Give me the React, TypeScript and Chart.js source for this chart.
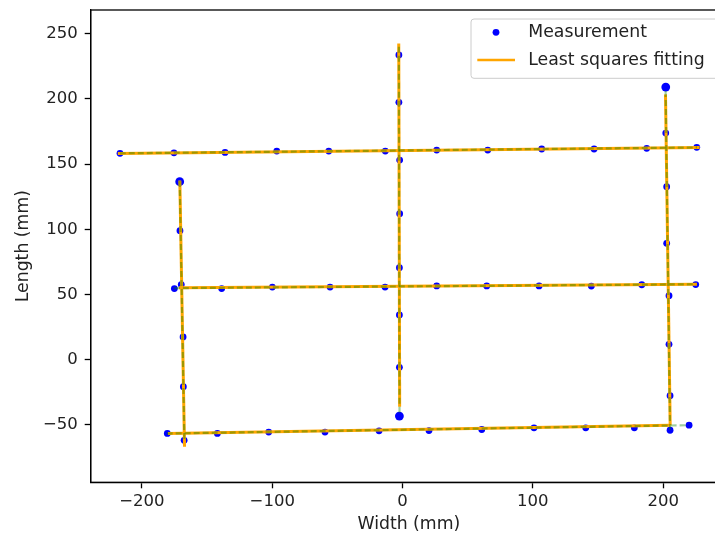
import React, { useEffect, useRef } from "react";
import { Chart, registerables } from "chart.js";

Chart.register(...registerables);

// ---------------- Data ----------------
const xTickValues = [-200, -100, 0, 100, 200];
const yTickValues = [-50, 0, 50, 100, 150, 200, 250];

const measurementLabel = "Measurement";
const fitLabel = "Least squares fitting";
const xAxisTitle = "Width (mm)";
const yAxisTitle = "Length (mm)";

// Measurements: horizontal rows
const topRowX = [-216.8, -175.4, -136.2, -96.5, -56.6, -13.2, 26.2, 65.4, 106.8, 147.0, 187.4, 225.8];
const topRowY = [158.3, 158.7, 159.0, 160.0, 160.0, 160.0, 160.8, 160.8, 161.6, 161.6, 162.1, 162.9];
const middleRowX = [-175.1, -138.8, -99.9, -55.6, -13.4, 26.2, 64.6, 104.8, 144.9, 183.6, 225.0];
const middleRowY = [54.6, 54.6, 55.7, 55.7, 55.7, 56.6, 56.6, 56.6, 56.5, 57.5, 57.6];
const bottomRowX = [-180.5, -142.1, -102.7, -59.5, -18.0, 20.3, 60.8, 100.9, 140.6, 177.9, 219.9];
const bottomRowY = [-56.5, -56.5, -55.5, -55.5, -54.5, -54.3, -53.5, -52.2, -52.2, -52.2, -50.2];

// Measurements: vertical columns
const leftColX = [-171.0, -170.8, -169.8, -168.4, -168.2, -167.6];
const leftColY = [136.5, 98.9, 57.6, 17.5, -20.7, -61.8];
const midColX = [-2.8, -2.8, -2.2, -2.2, -2.4, -2.4, -2.4, -2.4];
const midColY = [233.7, 197.4, 153.1, 112.0, 70.6, 34.3, -5.8, -43.2];
const rightColX = [202.0, 202.0, 202.7, 202.7, 204.5, 204.5, 205.3, 205.3];
const rightColY = [209.1, 173.8, 132.7, 89.3, 49.1, 11.8, -27.6, -54.1];

// Least squares fitted lines (orange), endpoints
const fitTopX = [-218.5, 228.0];
const fitTopY = [158.2, 162.8];
const fitMiddleX = [-171.5, 226.0];
const fitMiddleY = [55.2, 57.9];
const fitBottomX = [-180.0, 205.5];
const fitBottomY = [-56.6, -50.3];
const fitLeftX = [-170.9, -167.3];
const fitLeftY = [137.5, -66.7];
const fitMidX = [-2.9, -2.2];
const fitMidY = [242.6, -36.0];
const fitRightX = [201.8, 205.4];
const fitRightY = [203.5, -50.3];

// Reference lines (green dashed), endpoints
const refTopX = [-217.0, 226.0];
const refTopY = [158.3, 162.8];
const refMiddleX = [-175.5, 225.5];
const refMiddleY = [54.9, 57.9];
const refBottomX = [-181.0, 220.0];
const refBottomY = [-56.6, -50.2];
const refLeftX = [-171.0, -167.4];
const refLeftY = [137.0, -63.0];
const refMidX = [-2.8, -2.3];
const refMidY = [240.0, -43.0];
const refRightX = [201.9, 205.3];
const refRightY = [206.0, -54.0];

// ---------------- Helpers ----------------
const zip = (xs: number[], ys: number[]) => xs.map((x, i) => ({ x, y: ys[i] }));

const BLUE = "#0000ff";
const ORANGE = "#ffa500";
const GREEN = "rgba(0,128,0,0.38)";
const TEXT = "#222222";
const FONT = "'DejaVu Sans', sans-serif";
const fmt = (v: number) => (v < 0 ? "\u2212" + Math.abs(v) : String(v));

const measurementGroups: [number[], number[], number][] = [
  [topRowX, topRowY, -1],
  [middleRowX, middleRowY, -1],
  [bottomRowX, bottomRowY, -1],
  [leftColX, leftColY, 0],
  [midColX, midColY, 7],
  [rightColX, rightColY, 0],
];
const fitLines = [
  [fitTopX, fitTopY],
  [fitMiddleX, fitMiddleY],
  [fitBottomX, fitBottomY],
  [fitLeftX, fitLeftY],
  [fitMidX, fitMidY],
  [fitRightX, fitRightY],
];
const refLines = [
  [refTopX, refTopY],
  [refMiddleX, refMiddleY],
  [refBottomX, refBottomY],
  [refLeftX, refLeftY],
  [refMidX, refMidY],
  [refRightX, refRightY],
];

const framePlugin = {
  id: "frame",
  afterDraw(chart: any) {
    const { ctx, chartArea: a } = chart;
    ctx.save();
    ctx.strokeStyle = "#000";
    ctx.lineWidth = 1.3;
    ctx.strokeRect(a.left, a.top, a.right - a.left, a.bottom - a.top);
    ctx.restore();
  },
};

const legendPlugin = {
  id: "mplLegend",
  afterDraw(chart: any) {
    const ctx = chart.ctx;
    ctx.save();
    const bx = 471, by = 19, bw = 260, bh = 59.3, r = 3;
    ctx.beginPath();
    ctx.moveTo(bx + r, by);
    ctx.lineTo(bx + bw - r, by);
    ctx.arcTo(bx + bw, by, bx + bw, by + r, r);
    ctx.lineTo(bx + bw, by + bh - r);
    ctx.arcTo(bx + bw, by + bh, bx + bw - r, by + bh, r);
    ctx.lineTo(bx + r, by + bh);
    ctx.arcTo(bx, by + bh, bx, by + bh - r, r);
    ctx.lineTo(bx, by + r);
    ctx.arcTo(bx, by, bx + r, by, r);
    ctx.closePath();
    ctx.fillStyle = "rgba(255,255,255,0.8)";
    ctx.fill();
    ctx.strokeStyle = "#cccccc";
    ctx.lineWidth = 1;
    ctx.stroke();

    ctx.beginPath();
    ctx.arc(496, 32.3, 3.4, 0, Math.PI * 2);
    ctx.fillStyle = BLUE;
    ctx.fill();
    ctx.beginPath();
    ctx.moveTo(477.3, 60);
    ctx.lineTo(515, 60);
    ctx.strokeStyle = ORANGE;
    ctx.lineWidth = 2.6;
    ctx.stroke();

    ctx.fillStyle = TEXT;
    ctx.font = `17.3px ${FONT}`;
    ctx.textAlign = "left";
    ctx.textBaseline = "middle";
    ctx.fillText(measurementLabel, 528.3, 32.8);
    ctx.fillText(fitLabel, 528.3, 60.5);
    ctx.restore();
  },
};

export default function App() {
  const ref = useRef<HTMLCanvasElement>(null);

  useEffect(() => {
    const canvas = ref.current!;
    const datasets: any[] = [];
    measurementGroups.forEach(([xs, ys, big], gi) => {
      datasets.push({
        label: gi === 0 ? measurementLabel : "",
        data: zip(xs, ys),
        showLine: false,
        pointRadius: xs.map((_, i) => (i === big ? 4.4 : 3.4)),
        pointBackgroundColor: BLUE,
        pointBorderWidth: 0,
        pointBorderColor: BLUE,
        order: 3,
      });
    });
    fitLines.forEach(([xs, ys], gi) => {
      datasets.push({
        label: gi === 0 ? fitLabel : "",
        data: zip(xs, ys),
        showLine: true,
        pointRadius: 0,
        borderColor: ORANGE,
        borderWidth: 3,
        order: 2,
      });
    });
    refLines.forEach(([xs, ys]) => {
      datasets.push({
        label: "",
        data: zip(xs, ys),
        showLine: true,
        pointRadius: 0,
        borderColor: GREEN,
        borderWidth: 2.2,
        borderDash: [6, 3],
        order: 1,
      });
    });

    const tickFont = { family: FONT, size: 16.5 };
    const titleFont = { family: FONT, size: 17.3 };

    const chart = new Chart(canvas, {
      type: "scatter",
      data: { datasets },
      options: {
        animation: false,
        responsive: false,
        devicePixelRatio: 1,
        events: [],
        layout: { padding: { top: 10, right: 13, bottom: 0, left: 0 } },
        plugins: { legend: { display: false }, tooltip: { enabled: false } },
        scales: {
          x: {
            type: "linear",
            min: -239.3,
            max: 249.0,
            afterBuildTicks: (s: any) => {
              s.ticks = xTickValues.map((v) => ({ value: v }));
            },
            afterFit: (s: any) => {
              s.height = 54.7;
              s.paddingLeft = 0;
              s.paddingRight = 0;
              s.paddingTop = 0;
              s.paddingBottom = 0;
            },
            ticks: {
              callback: (v: any) => fmt(Number(v)),
              font: tickFont,
              color: TEXT,
              padding: 4,
              maxRotation: 0,
              autoSkip: false,
            },
            grid: {
              display: true,
              drawOnChartArea: false,
              drawTicks: true,
              tickLength: 6,
              tickWidth: 1.3,
              tickColor: "#000",
            },
            border: { display: true, color: "#000", width: 1.3 },
            title: {
              display: true,
              text: xAxisTitle,
              font: titleFont,
              color: TEXT,
              padding: { top: 0, bottom: 2.6 },
            },
          },
          y: {
            type: "linear",
            min: -94.0,
            max: 268.2,
            afterBuildTicks: (s: any) => {
              s.ticks = yTickValues.map((v) => ({ value: v }));
            },
            afterFit: (s: any) => {
              s.width = 90.7;
              s.paddingLeft = 0;
              s.paddingRight = 0;
              s.paddingTop = 0;
              s.paddingBottom = 0;
            },
            ticks: {
              callback: (v: any) => fmt(Number(v)),
              font: tickFont,
              color: TEXT,
              padding: 7,
              autoSkip: false,
            },
            grid: {
              display: true,
              drawOnChartArea: false,
              drawTicks: true,
              tickLength: 6,
              tickWidth: 1.3,
              tickColor: "#000",
            },
            border: { display: true, color: "#000", width: 1.3 },
            title: {
              display: true,
              text: yAxisTitle,
              font: titleFont,
              color: TEXT,
              padding: { top: 13.6, bottom: 0 },
            },
          },
        },
      } as any,
      plugins: [framePlugin, legendPlugin],
    });
    return () => chart.destroy();
  }, []);

  return (
    <div
      style={{
        position: "fixed",
        left: 0,
        top: 0,
        width: 715,
        height: 537,
        overflow: "hidden",
        background: "#fff",
      }}
    >
      <canvas
        ref={ref}
        width={740}
        height={537}
        style={{ display: "block", width: 740, height: 537 }}
      />
    </div>
  );
}
